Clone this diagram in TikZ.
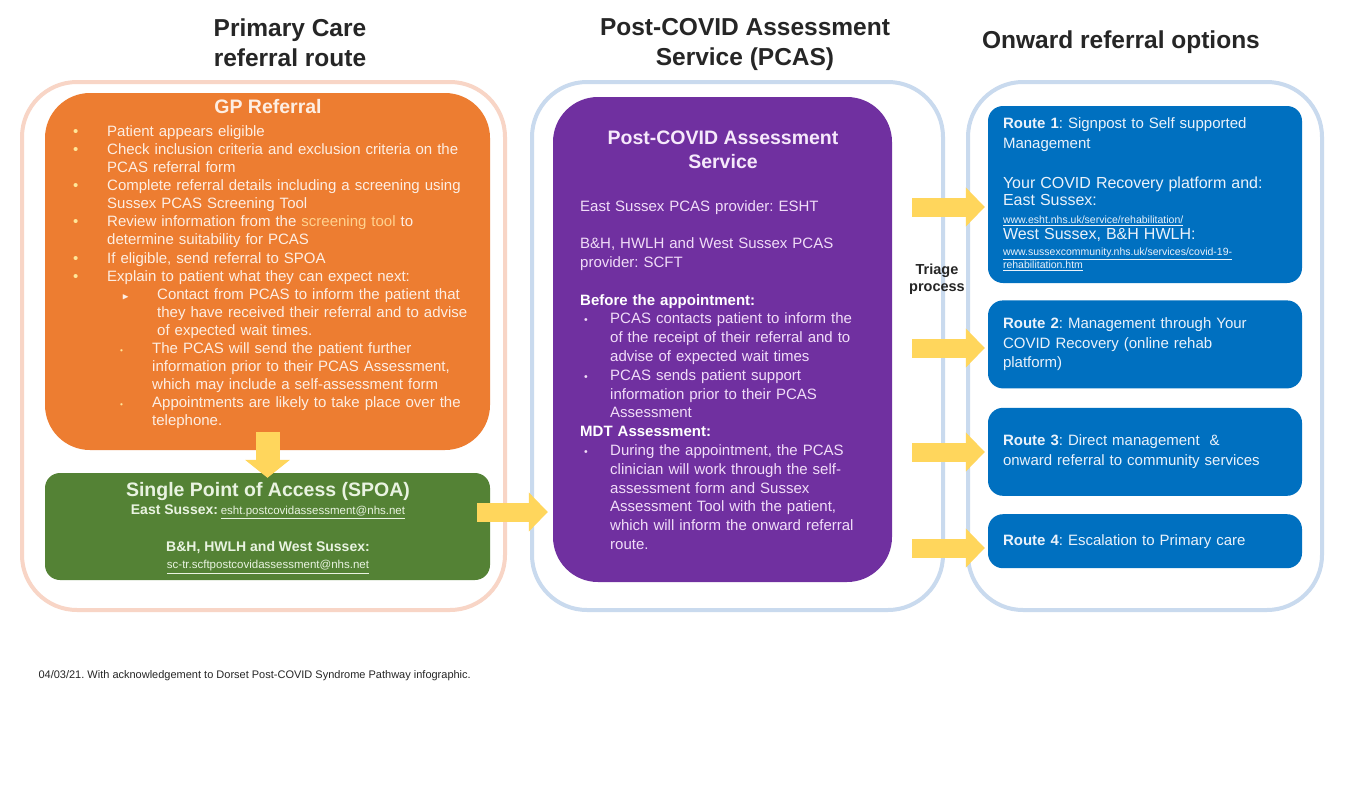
\documentclass[tikz,border=0pt]{standalone}
\usepackage{fontspec}
\setmainfont{Liberation Sans}
\usepackage{amssymb}
\usetikzlibrary{arrows.meta,positioning}
\frenchspacing

\definecolor{gporange}{HTML}{ED7D31}
\definecolor{spoagreen}{HTML}{548235}
\definecolor{pcaspurple}{HTML}{7030A0}
\definecolor{routeblue}{HTML}{0070C0}
\definecolor{arrowyellow}{HTML}{FFD65C}
\definecolor{peachline}{HTML}{F8D5C6}
\definecolor{blueline}{HTML}{C9DAEE}
\definecolor{headgray}{HTML}{262626}
\definecolor{gptext}{HTML}{FDEEE3}
\definecolor{gpbullet}{HTML}{FFE699}
\definecolor{gplink}{HTML}{FFD28F}
\definecolor{spoatext}{HTML}{E9F3E1}
\definecolor{pcastitle}{HTML}{F6E9FB}
\definecolor{pcastext}{HTML}{F1DDF8}
\definecolor{routetext}{HTML}{EAF2FB}

% font sizes (1pt = 1px on the page)
\newcommand{\headfont}{\fontsize{24.5}{30}\selectfont\bfseries}
\newcommand{\titlefont}{\fontsize{19.5}{24}\selectfont\bfseries}
\newcommand{\bodyfont}{\fontsize{15}{18.1}\selectfont}
\newcommand{\pcasfont}{\fontsize{15}{18.8}\selectfont}
\newcommand{\routefont}{\fontsize{15}{19.5}\selectfont}
\newcommand{\spoafont}{\fontsize{14}{17}\selectfont\bfseries}
\newcommand{\mailfont}{\fontsize{11.5}{14}\selectfont}
\newcommand{\footfont}{\fontsize{11}{12}\selectfont}

% bullet line: #1 mark offset, #2 text offset, #3 mark, #4 text
\newcommand{\bul}[4]{\par\noindent\hangindent=#2\hangafter=1\hbox to #2{\hspace*{#1}#3\hfil}#4}
\newcommand{\gpdot}{{\color{gpbullet}\textbullet}}
\newcommand{\gparrow}{{\color{gptext}\scalebox{0.6}{$\blacktriangleright$}}}
\newcommand{\gpsmall}{{\color{gpbullet}\scalebox{0.55}{\textbullet}}}
\newcommand{\pcasdot}{{\color{pcastext}\scalebox{0.7}{\textbullet}}}

\tikzstyle{heading}=[
  font=\headfont, text=headgray, align=center
]
\tikzstyle{wrap}=[
  draw, line width=4pt, rounded corners=55pt, inner sep=0pt
]
\tikzstyle{panel}=[
  inner sep=0pt
]
\tikzstyle{routebox}=[
  fill=routeblue, rounded corners=15pt, minimum width=314pt, text width=284pt,
  align=left, text=routetext, font=\routefont, inner sep=0pt
]
\tikzstyle{yarrow}=[
  draw=arrowyellow, line width=19pt, -{Triangle[width=38pt,length=19pt,fill=arrowyellow]}
]

\begin{document}
\begin{tikzpicture}[x=1pt,y=-1pt]
  \useasboundingbox[fill=white] (0,0) rectangle (1363,798);

  % column headings
  \node (headprimary) [heading] at (290,43) {Primary Care\\referral route};
  \node (headpcas) [heading] at (745,44) {Post-COVID Assessment\\Service (PCAS)};
  \node (headonward) [heading] at (1121,42) {Onward referral options};

  % outer frames
  \node (leftwrap) [wrap, draw=peachline, minimum width=483pt, minimum height=528pt] at (263.5,346) {};
  \node (midwrap) [wrap, draw=blueline, minimum width=411pt, minimum height=528pt] at (737.5,346) {};
  \node (rightwrap) [wrap, draw=blueline, minimum width=354pt, minimum height=528pt] at (1145,346) {};

  % GP referral
  \node (gp) [panel, fill=gporange, rounded corners=45pt, minimum width=445pt, minimum height=357pt] at (267.5,271.5) {};
  \node (gptitle) [font=\titlefont, text=gptext] at (268,107) {GP Referral};
  \node (gplist) [anchor=north west, inner sep=0pt, text width=440pt, align=left, font=\bodyfont, text=gptext] at (73,118) {
    \bul{0pt}{34pt}{\gpdot}{Patient appears eligible}
    \bul{0pt}{34pt}{\gpdot}{Check inclusion criteria and exclusion criteria on the\newline PCAS referral form}
    \bul{0pt}{34pt}{\gpdot}{Complete referral details including a screening using\newline Sussex PCAS Screening Tool}
    \bul{0pt}{34pt}{\gpdot}{Review information from the {\color{gplink}screening tool} to\newline determine suitability for PCAS}
    \bul{0pt}{34pt}{\gpdot}{If eligible, send referral to SPOA}
    \bul{0pt}{34pt}{\gpdot}{Explain to patient what they can expect next:}
    \bul{49pt}{84pt}{\gparrow}{Contact from PCAS to inform the patient that\newline they have received their referral and to advise\newline of expected wait times.}
    \bul{47pt}{79pt}{\gpsmall}{The PCAS will send the patient further\newline information prior to their PCAS Assessment,\newline which may include a self-assessment form}
    \bul{47pt}{79pt}{\gpsmall}{Appointments are likely to take place over the\newline telephone.}\par
  };

  % single point of access
  \node (spoa) [panel, fill=spoagreen, rounded corners=15pt, minimum width=445pt, minimum height=107pt] at (267.5,526.5) {};
  \node (spoatitle) [font=\titlefont, text=spoatext] at (268,491) {Single Point of Access (SPOA)};
  \node (spoaeast) [text=spoatext] at (268,512) {{\spoafont East Sussex:} {\mailfont\underline{esht.postcovidassessment@nhs.net}}};
  \node (spoawest) [font=\spoafont, text=spoatext] at (268,548) {B\&H, HWLH and West Sussex:};
  \node (spoamail) [font=\mailfont, text=spoatext] at (268,567) {\underline{sc-tr.scftpostcovidassessment@nhs.net}};

  % assessment service
  \node (pcas) [panel, fill=pcaspurple, rounded corners=45pt, minimum width=339pt, minimum height=485pt] at (722.5,339.5) {};
  \node (pcastitle) [font=\titlefont, text=pcastitle, align=center] at (723,150) {Post-COVID Assessment\\Service};
  \node (pcaslist) [anchor=north west, inner sep=0pt, text width=305pt, align=left, font=\pcasfont, text=pcastext] at (580,200) {
    \noindent East Sussex PCAS provider: ESHT\par\vskip 18.8pt
    \noindent B\&H, HWLH and West Sussex PCAS\newline provider: SCFT\par\vskip 18.8pt
    \noindent{\bfseries\color{white}Before the appointment:}
    \bul{4pt}{30pt}{\pcasdot}{PCAS contacts patient to inform the\newline of the receipt of their referral and to\newline advise of expected wait times}
    \bul{4pt}{30pt}{\pcasdot}{PCAS sends patient support\newline information prior to their PCAS\newline Assessment}
    \par\noindent{\bfseries\color{white}MDT Assessment:}
    \bul{4pt}{30pt}{\pcasdot}{During the appointment, the PCAS\newline clinician will work through the self-\newline assessment form and Sussex\newline Assessment Tool with the patient,\newline which will inform the onward referral\newline route.}\par
  };

  \node (triage) [font=\fontsize{14.5}{17}\selectfont\bfseries, text=headgray, align=center] at (937,279) {Triage\\process};

  % onward referral routes
  \node (r1) [routebox, minimum height=177pt] at (1145,194.5) {
    \lineskiplimit=-20pt
    \fontsize{15}{20}\selectfont\textbf{Route 1}: Signpost to Self supported\\
    Management\\
    \fontsize{16}{40}\selectfont Your COVID Recovery platform and:\\
    \fontsize{16}{17}\selectfont East Sussex:\\
    \fontsize{10.5}{18}\selectfont\underline{www.esht.nhs.uk/service/rehabilitation/}\\
    \fontsize{16}{16}\selectfont West Sussex, B\&H HWLH:\\
    \fontsize{10.5}{16}\selectfont\underline{www.sussexcommunity.nhs.uk/services/covid-19-}\\
    \fontsize{10.5}{13}\selectfont\underline{rehabilitation.htm}\par};
  \node (r2) [routebox, minimum height=88pt, below=17pt of r1] {\textbf{Route 2}: Management through Your\\COVID Recovery (online rehab\\platform)};
  \node (r3) [routebox, minimum height=88pt, below=19pt of r2] {\textbf{Route 3}: Direct management ~\&\\onward referral to community services};
  \node (r4) [routebox, minimum height=54pt, below=18pt of r3] {\textbf{Route 4}: Escalation to Primary care};

  % block arrows
  \draw[yarrow, line width=24pt, -{Triangle[width=44pt,length=18pt,fill=arrowyellow]}] ([yshift=18pt]gp.south) -- ([yshift=-5pt]spoa.north);
  \coordinate (spoaout) at (477,512);
  \draw[yarrow, shorten >=5pt] (spoaout) -- (spoaout -| pcas.west);
  \foreach \r/\y in {r1/207, r2/348, r3/452, r4/548} {
    \coordinate (from\r) at (912,\y);
    \draw[yarrow, shorten >=3pt] (from\r) -- (from\r -| \r.west);
  }

  \node (footnote) [anchor=west, font=\footfont, text=headgray] at (35,676) {04/03/21. With acknowledgement to Dorset Post-COVID Syndrome Pathway infographic.};
\end{tikzpicture}
\end{document}
